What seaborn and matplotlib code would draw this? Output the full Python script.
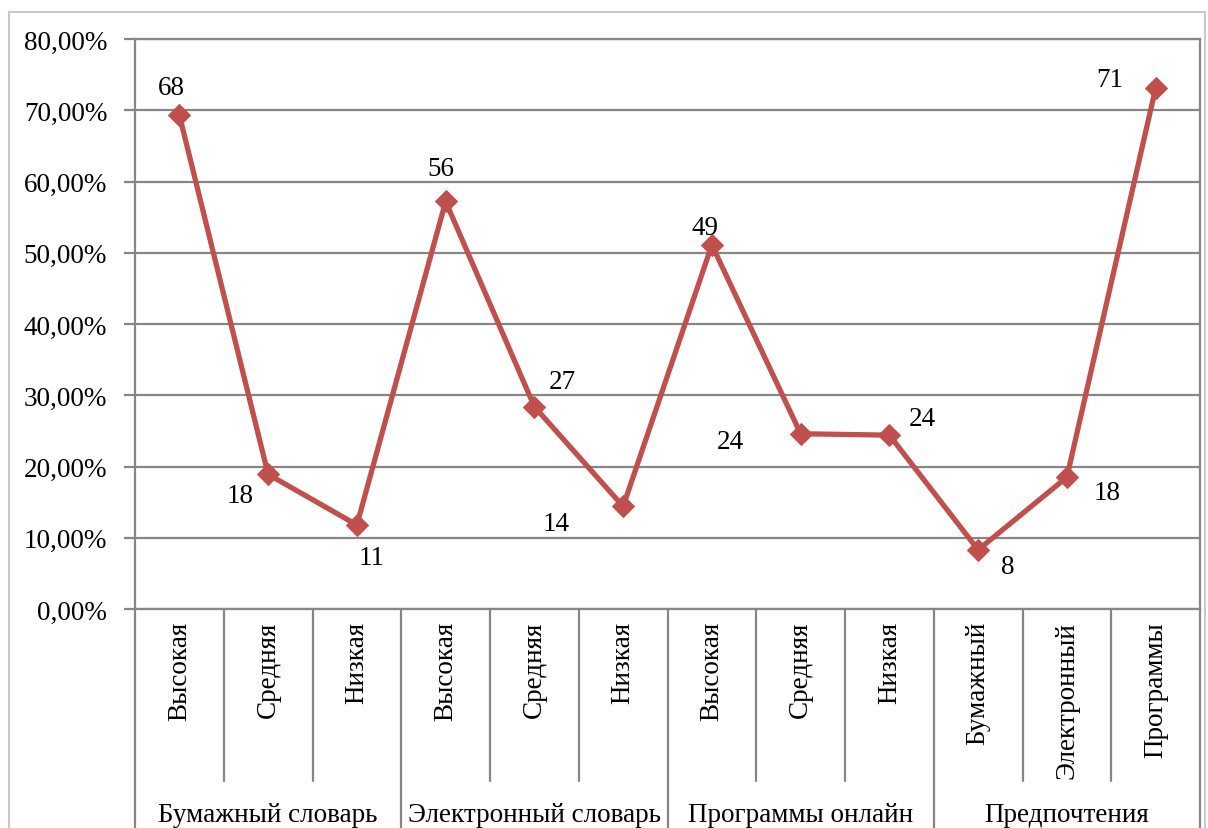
import pandas as pd
import seaborn as sns
import matplotlib.pyplot as plt
from matplotlib.ticker import FuncFormatter
from matplotlib.patches import Rectangle

groups = ['Бумажный словарь', 'Электронный словарь', 'Программы онлайн', 'Предпочтения']
sub_labels = ['Высокая', 'Средняя', 'Низкая',
              'Высокая', 'Средняя', 'Низкая',
              'Высокая', 'Средняя', 'Низкая',
              'Бумажный', 'Электронный', 'Программы']
values = [0.693, 0.189, 0.118, 0.572, 0.284, 0.144,
          0.511, 0.246, 0.244, 0.083, 0.185, 0.731]
point_labels = ['68', '18', '11', '56', '27', '14', '49', '24', '24', '8', '18', '71']

# label offsets in pixels (dx, dy), as placed in the original
label_offsets = [(-8, 28), (-28, -21), (15, -33), (-5, 33), (28, 25), (-67, -17),
                 (-7, 17), (-70, -8), (33, 17), (30, -17), (40, -15), (-46, 9)]

sns.set_style("white")
plt.rcParams['font.family'] = ['Liberation Serif', 'DejaVu Serif']
plt.rcParams['text.color'] = 'black'
plt.rcParams['ytick.labelcolor'] = 'black'

fs = 19.5
df = pd.DataFrame({'pos': range(len(values)), 'value': values})

fig = plt.figure(figsize=(12.08, 8.29), dpi=100)
ax = fig.add_axes([135 / 1208, 219 / 829, 1065 / 1208, 570 / 829])

# outer chart frame
fig.patches.append(Rectangle((9 / 1208, -0.01), 1196 / 1208, 1 - 13 / 829 + 0.01,
                             transform=fig.transFigure, fill=False,
                             edgecolor='#c8c8c8', linewidth=1.5))

grid_c = '#868686'
ax.set_ylim(0, 0.8)
ax.set_xlim(-0.5, len(values) - 0.5)
ax.set_yticks([i / 10 for i in range(9)])
ax.yaxis.set_major_formatter(FuncFormatter(lambda v, p: f'{v * 100:.2f}%'.replace('.', ',')))
ax.grid(axis='y', color=grid_c, linewidth=1.6)
ax.set_axisbelow(True)
for s in ax.spines.values():
    s.set_color(grid_c)
    s.set_linewidth(1.6)
ax.tick_params(axis='y', length=8, width=1.6, color=grid_c, labelsize=fs, pad=12,
               left=True, labelcolor='black')
ax.set_xticks([])

sns.lineplot(data=df, x='pos', y='value', ax=ax, color='#c0504d', linewidth=3.8,
             marker='D', markersize=11, markeredgecolor='#c0504d', zorder=3)
ax.set_xlabel('')
ax.set_ylabel('')

for i, (v, t) in enumerate(zip(values, point_labels)):
    dx, dy = label_offsets[i]
    ax.annotate(t, (i, v), xytext=(dx, dy), textcoords='offset pixels',
                ha='center', va='center', fontsize=fs)

# multi-level category axis
xt = ax.get_xaxis_transform()
for i, lab in enumerate(sub_labels):
    ax.text(i, -0.021, lab, transform=xt, rotation=90, ha='center', va='top', fontsize=fs)
n = len(sub_labels)
for k in range(n + 1):
    x = k - 0.5
    bottom = -0.40 if k % 3 == 0 else -0.302
    ax.plot([x, x], [0, bottom], transform=xt, color=grid_c, linewidth=1.6, clip_on=False)
for g, name in enumerate(groups):
    ax.text(g * 3 + 1, -0.36, name, transform=xt, ha='center', va='center', fontsize=fs)

fig.savefig('out.png', dpi=100)
